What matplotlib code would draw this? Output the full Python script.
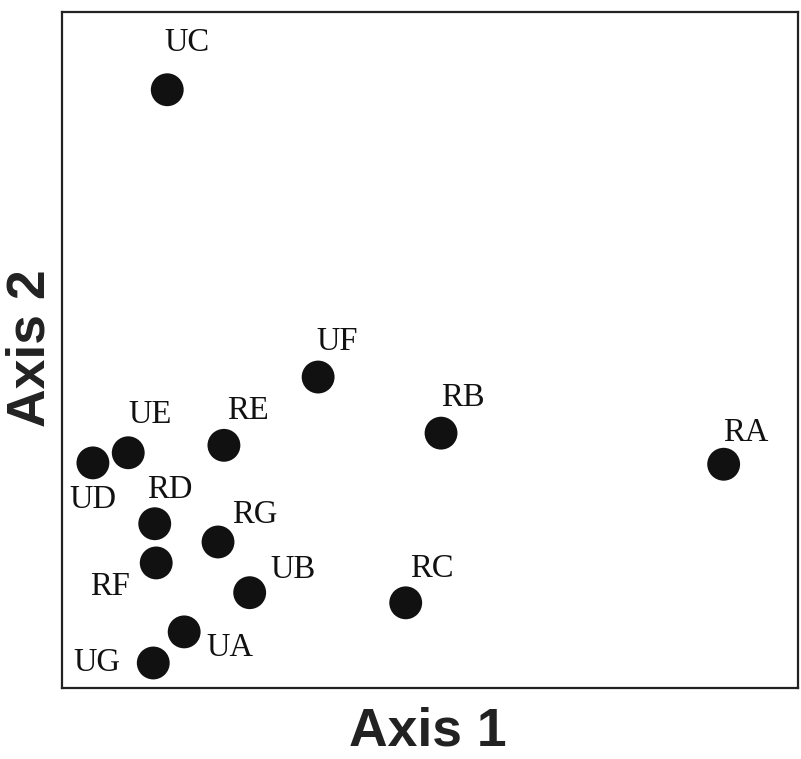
import matplotlib
matplotlib.use("Agg")
import matplotlib.pyplot as plt

labels = ["UC", "UF", "RB", "RA", "UE", "UD", "RE", "RD", "RG", "RF", "UB", "RC", "UA", "UG"]
axis1 = [14.3, 34.8, 51.5, 89.9, 9.0, 4.2, 22.0, 12.6, 21.2, 12.8, 25.5, 46.7, 16.6, 12.4]
axis2 = [88.5, 46.0, 37.7, 33.1, 34.8, 33.3, 35.9, 24.3, 21.6, 18.5, 14.1, 12.6, 8.3, 3.7]
# label offsets in pixels (dx, dy) relative to each point, screen y downwards
label_dx = [20, 19, 22, 22, 22, 0, 24, 15, 37, -46, 43, 26, 46, -56]
label_dy = [-47, -35, -35, -31, -38, 37, -35, -34, -27, 24, -23, -34, 16, 0]

W, H = 801, 759
fig = plt.figure(figsize=(W / 100, H / 100), dpi=100)
ax = fig.add_axes([62 / W, 71 / H, 736 / W, 676 / H])
ax.set_xlim(0, 100)
ax.set_ylim(0, 100)
ax.scatter(axis1, axis2, s=560, color="#111111", edgecolors="none", zorder=3)
for lab, x, y, dx, dy in zip(labels, axis1, axis2, label_dx, label_dy):
    ax.annotate(lab, (x, y), xytext=(dx * 0.72, -dy * 0.72), textcoords="offset points",
                ha="center", va="center", fontsize=23.5, family="Liberation Serif", color="#111111")
ax.set_xticks([])
ax.set_yticks([])
for sp in ax.spines.values():
    sp.set_linewidth(1.6)
    sp.set_color("#222222")

fig.text(428 / W, 1 - 731 / H, "Axis 1", ha="center", va="center", fontsize=38.5,
         fontweight="bold", family="Liberation Sans", color="#222222")
fig.text(31 / W, 1 - 348 / H, "Axis 2", ha="center", va="center", fontsize=38.5,
         fontweight="bold", family="Liberation Sans", color="#222222", rotation=90)

fig.savefig("out.png", dpi=100)
